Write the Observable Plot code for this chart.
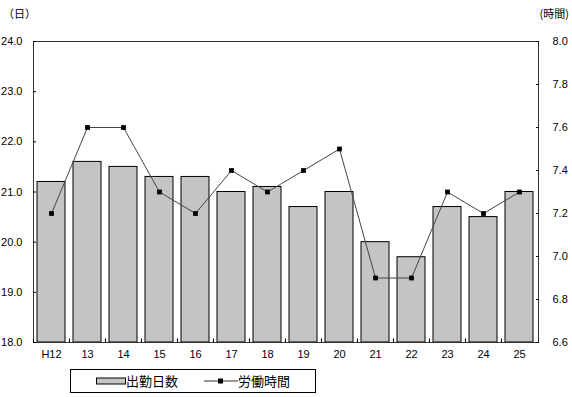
<!DOCTYPE html>
<html><head><meta charset="utf-8">
<script src="https://cdn.jsdelivr.net/npm/d3@7"></script>
<script src="https://cdn.jsdelivr.net/npm/@observablehq/plot@0.6"></script>
<style>
body{margin:0;background:#fff;}
#wrap{position:relative;width:572px;height:397px;font-family:"Liberation Sans","Noto Sans CJK JP",sans-serif;color:#000;overflow:hidden;}
.unit{position:absolute;top:5px;font-family:"Noto Sans CJK JP",sans-serif;font-size:11px;white-space:nowrap;}
#chart{position:absolute;left:0;top:0;}
#legend{position:absolute;left:70px;top:369px;width:246px;height:24px;border:1px solid #000;box-sizing:border-box;font-family:"Noto Sans CJK JP",sans-serif;font-size:13px;}
#legend .item{position:absolute;top:2px;line-height:18px;display:flex;align-items:center;}
</style></head><body>
<div id="wrap">
  <div class="unit" style="left:3px;">（日）</div>
  <div class="unit" style="right:3px;">(時間)</div>
  <div id="chart"></div>
  <div id="legend">
    <div class="item" style="left:25px;"><svg width="30" height="10"><rect x="0.5" y="2" width="29" height="6" fill="#c4c4c4" stroke="#000" stroke-width="1"/></svg><span>出勤日数</span></div>
    <div class="item" style="left:133px;"><svg width="34" height="10"><line x1="0" y1="5" x2="34" y2="5" stroke="#333" stroke-width="1"/><rect x="14" y="2.5" width="5" height="5" fill="#000"/></svg><span>労働時間</span></div>
  </div>
</div>
<script>
const categories = ["H12","13","14","15","16","17","18","19","20","21","22","23","24","25"];
const workDays = [21.2,21.6,21.5,21.3,21.3,21.0,21.1,20.7,21.0,20.0,19.7,20.7,20.5,21.0];
const workHours = [7.2,7.6,7.6,7.3,7.2,7.4,7.3,7.4,7.5,6.9,6.9,7.3,7.2,7.3];
const leftTicks = [18,19,20,21,22,23,24];
const rightTicks = [6.6,6.8,7.0,7.2,7.4,7.6,7.8,8.0];

const leftDomain = [18, 24];
const rightDomain = [6.6, 8.0];
const toLeft = v => leftDomain[0] + (v - rightDomain[0]) * (leftDomain[1]-leftDomain[0]) / (rightDomain[1]-rightDomain[0]);
const fromLeft = v => rightDomain[0] + (v - leftDomain[0]) * (rightDomain[1]-rightDomain[0]) / (leftDomain[1]-leftDomain[0]);

const W = 572, mL = 33, mR = 34;
const step = (W - mL - mR) / categories.length;

const bars = categories.map((c,i) => ({cat:c, days:workDays[i]}));
const line = categories.map((c,i) => ({cat:c, hours:toLeft(workHours[i])}));

const chart = Plot.plot({
  width: W, height: 362,
  marginLeft: mL, marginRight: mR, marginTop: 41, marginBottom: 20,
  style: {fontFamily: "Liberation Sans, sans-serif", fontSize: "11px", background: "transparent", overflow: "visible"},
  x: {type: "band", domain: categories, paddingInner: 0.21, paddingOuter: 0.105, label: null},
  y: {domain: leftDomain, label: null},
  marks: [
    Plot.barY(bars, {x: "cat", y1: leftDomain[0], y2: "days", fill: "#c4c4c4", stroke: "#000", strokeWidth: 1}),
    Plot.frame({stroke: "#333"}),
    Plot.ruleX(categories, {x: d => d, y1: leftDomain[0], y2: leftDomain[0] + 0.07, dx: -step/2, stroke: "#000"}),
    Plot.axisX({tickSize: 0, tickPadding: 8, fontSize: 11}),
    Plot.axisY(leftTicks, {anchor: "left", tickSize: 0, tickPadding: 11, tickFormat: d => d.toFixed(1)}),
    Plot.axisY(leftTicks, {anchor: "left", tickSize: -3, text: null}),
    Plot.axisY(rightTicks.map(toLeft), {anchor: "right", tickSize: 0, tickPadding: 14, tickFormat: d => fromLeft(d).toFixed(1)}),
    Plot.axisY(rightTicks.map(toLeft), {anchor: "right", tickSize: -3, text: null}),
    Plot.line(line, {x: "cat", y: "hours", stroke: "#444", strokeWidth: 1}),
    Plot.dot(line, {x: "cat", y: "hours", symbol: "square", r: 2.7, fill: "#000", stroke: "none"})
  ]
});
document.getElementById("chart").appendChild(chart);
</script>
</body></html>
